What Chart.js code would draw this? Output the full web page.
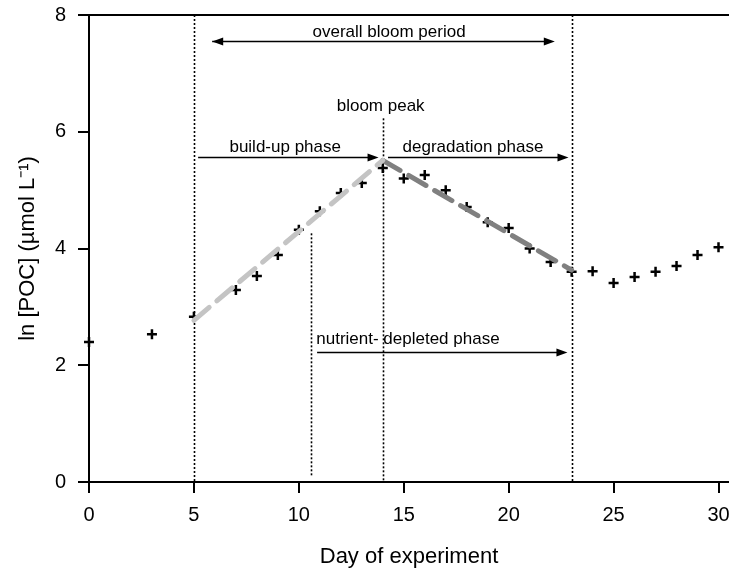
<!DOCTYPE html>
<html lang="en">
  <head>
    <meta charset="UTF-8" />
    <title>ln POC over the experiment</title>
    <style>
      body {
        margin: 0;
        background: white;
      }
      #wrap {
        width: 729px;
        height: 571px;
      }
    </style>
    <script src="https://cdn.jsdelivr.net/npm/chart.js@4.4.0/dist/chart.umd.min.js"></script>
  </head>
  <body>
    <div id="wrap"><canvas id="pocChart" width="729" height="571"></canvas></div>
    <script>
      // measured days and ln[POC]
      var days = [0, 3, 5, 7, 8, 9, 10, 11, 12, 13, 14, 15, 16, 17, 18, 19, 20, 21, 22, 23, 24, 25, 26, 27, 28, 29, 30];
      var lnPoc = [2.40, 2.53, 2.83, 3.29, 3.53, 3.89, 4.32, 4.64, 4.95, 5.12, 5.38, 5.20, 5.26, 5.00, 4.71, 4.45, 4.35, 4.00, 3.77, 3.60, 3.61, 3.41, 3.51, 3.60, 3.70, 3.89, 4.02];

      // regression lines (start / end)
      var buildUpFit = [[5, 2.77], [14, 5.51]];
      var degradationFit = [[14, 5.51], [23, 3.63]];

      var xTicks = [0, 5, 10, 15, 20, 25, 30];
      var yTicks = [0, 2, 4, 6, 8];

      // annotations, in data units
      var phaseLines = [[5, 0, 8], [10.6, 0.1, 4.26], [14, 0, 6.23], [23, 0, 8]];
      var phaseArrows = [[5.87, 22.2, 7.55, true], [5.2, 13.8, 5.57, false], [14.25, 22.85, 5.57, false], [10.87, 22.8, 2.22, false]];
      var phaseLabels = [
        ["overall bloom period", 14.3, 7.63, "center"],
        ["bloom peak", 13.9, 6.35, "center"],
        ["build-up phase", 9.35, 5.65, "center"],
        ["degradation phase", 18.3, 5.65, "center"],
        ["nutrient- depleted phase", 10.83, 2.37, "left"],
      ];

      var font = "'Liberation Sans', Arial, sans-serif";

      var annotationPlugin = {
        id: "phases",
        beforeDatasetsDraw(chart) {
          var ctx = chart.ctx;
          var xs = chart.scales.x;
          var ys = chart.scales.y;
          ctx.save();
          ctx.strokeStyle = "black";
          ctx.lineWidth = 1.6;
          ctx.setLineDash([2, 2]);
          phaseLines.forEach((l) => {
            var px = Math.round(xs.getPixelForValue(l[0])) + 0.5;
            ctx.beginPath();
            ctx.moveTo(px, ys.getPixelForValue(l[2]));
            ctx.lineTo(px, ys.getPixelForValue(l[1]));
            ctx.stroke();
          });
          ctx.restore();
        },
        afterDatasetsDraw(chart) {
          var ctx = chart.ctx;
          var xs = chart.scales.x;
          var ys = chart.scales.y;
          var area = chart.chartArea;
          ctx.save();
          // top frame line
          ctx.strokeStyle = "black";
          ctx.lineWidth = 2;
          ctx.beginPath();
          ctx.moveTo(area.left, area.top);
          ctx.lineTo(area.right, area.top);
          ctx.stroke();

          var head = (x, y, dir) => {
            ctx.beginPath();
            ctx.moveTo(x, y);
            ctx.lineTo(x - dir * 11, y - 4);
            ctx.lineTo(x - dir * 11, y + 4);
            ctx.closePath();
            ctx.fill();
          };
          ctx.fillStyle = "black";
          ctx.lineWidth = 1.3;
          phaseArrows.forEach((a) => {
            var x1 = xs.getPixelForValue(a[0]);
            var x2 = xs.getPixelForValue(a[1]);
            var y = Math.round(ys.getPixelForValue(a[2])) + 0.5;
            ctx.beginPath();
            ctx.moveTo(x1, y);
            ctx.lineTo(x2 - 5, y);
            ctx.stroke();
            head(x2, y, 1);
            if (a[3]) head(x1, y, -1);
          });

          ctx.font = "17px " + font;
          ctx.textBaseline = "alphabetic";
          phaseLabels.forEach((t) => {
            ctx.textAlign = t[3];
            ctx.fillText(t[0], xs.getPixelForValue(t[1]), ys.getPixelForValue(t[2]));
          });
          ctx.restore();
        },
      };

      var axisCommon = {
        border: { display: true, color: "black", width: 2 },
        grid: { drawOnChartArea: false, drawTicks: true, tickLength: 11, color: "black", lineWidth: 2 },
      };

      new Chart(document.getElementById("pocChart"), {
        type: "scatter",
        data: {
          datasets: [
            {
              label: "ln POC",
              data: days.map((d, i) => ({ x: d, y: lnPoc[i] })),
              pointStyle: "cross",
              pointRadius: 5,
              borderColor: "black",
              borderWidth: 2.5,
              clip: false,
              order: 2,
            },
            {
              type: "line",
              label: "build-up fit",
              data: buildUpFit.map((p) => ({ x: p[0], y: p[1] })),
              borderColor: "#c4c4c4",
              borderWidth: 5,
              borderDash: [20, 10],
              borderCapStyle: "round",
              pointRadius: 0,
              order: 1,
            },
            {
              type: "line",
              label: "degradation fit",
              data: degradationFit.map((p) => ({ x: p[0], y: p[1] })),
              borderColor: "#808080",
              borderWidth: 5,
              borderDash: [20, 10],
              borderCapStyle: "round",
              pointRadius: 0,
              order: 1,
            },
          ],
        },
        options: {
          responsive: false,
          animation: false,
          layout: { autoPadding: false, padding: { top: 15, right: 0, bottom: 0, left: 0 } },
          plugins: { legend: { display: false }, tooltip: { enabled: false } },
          scales: {
            x: {
              ...axisCommon,
              type: "linear",
              min: 0,
              max: 30.5,
              afterBuildTicks: (scale) => {
                scale.ticks = xTicks.map((v) => ({ value: v }));
              },
              afterFit: (scale) => {
                scale.height = 89;
                scale.paddingLeft = 0;
                scale.paddingRight = 0;
              },
              ticks: { color: "black", font: { family: font, size: 20 }, padding: 10, maxRotation: 0 },
              title: { display: true, text: "Day of experiment", color: "black", font: { family: font, size: 22 }, padding: { bottom: 1 } },
            },
            y: {
              ...axisCommon,
              min: 0,
              max: 8,
              afterBuildTicks: (scale) => {
                scale.ticks = yTicks.map((v) => ({ value: v }));
              },
              afterFit: (scale) => {
                scale.width = 89;
                scale.paddingTop = 0;
                scale.paddingBottom = 0;
              },
              ticks: { color: "black", font: { family: font, size: 20 }, padding: 12 },
              title: { display: true, text: "ln [POC] (µmol L⁻¹)", color: "black", font: { family: font, size: 22 }, padding: { top: 15 } },
            },
          },
        },
        plugins: [annotationPlugin],
      });
    </script>
  </body>
</html>
